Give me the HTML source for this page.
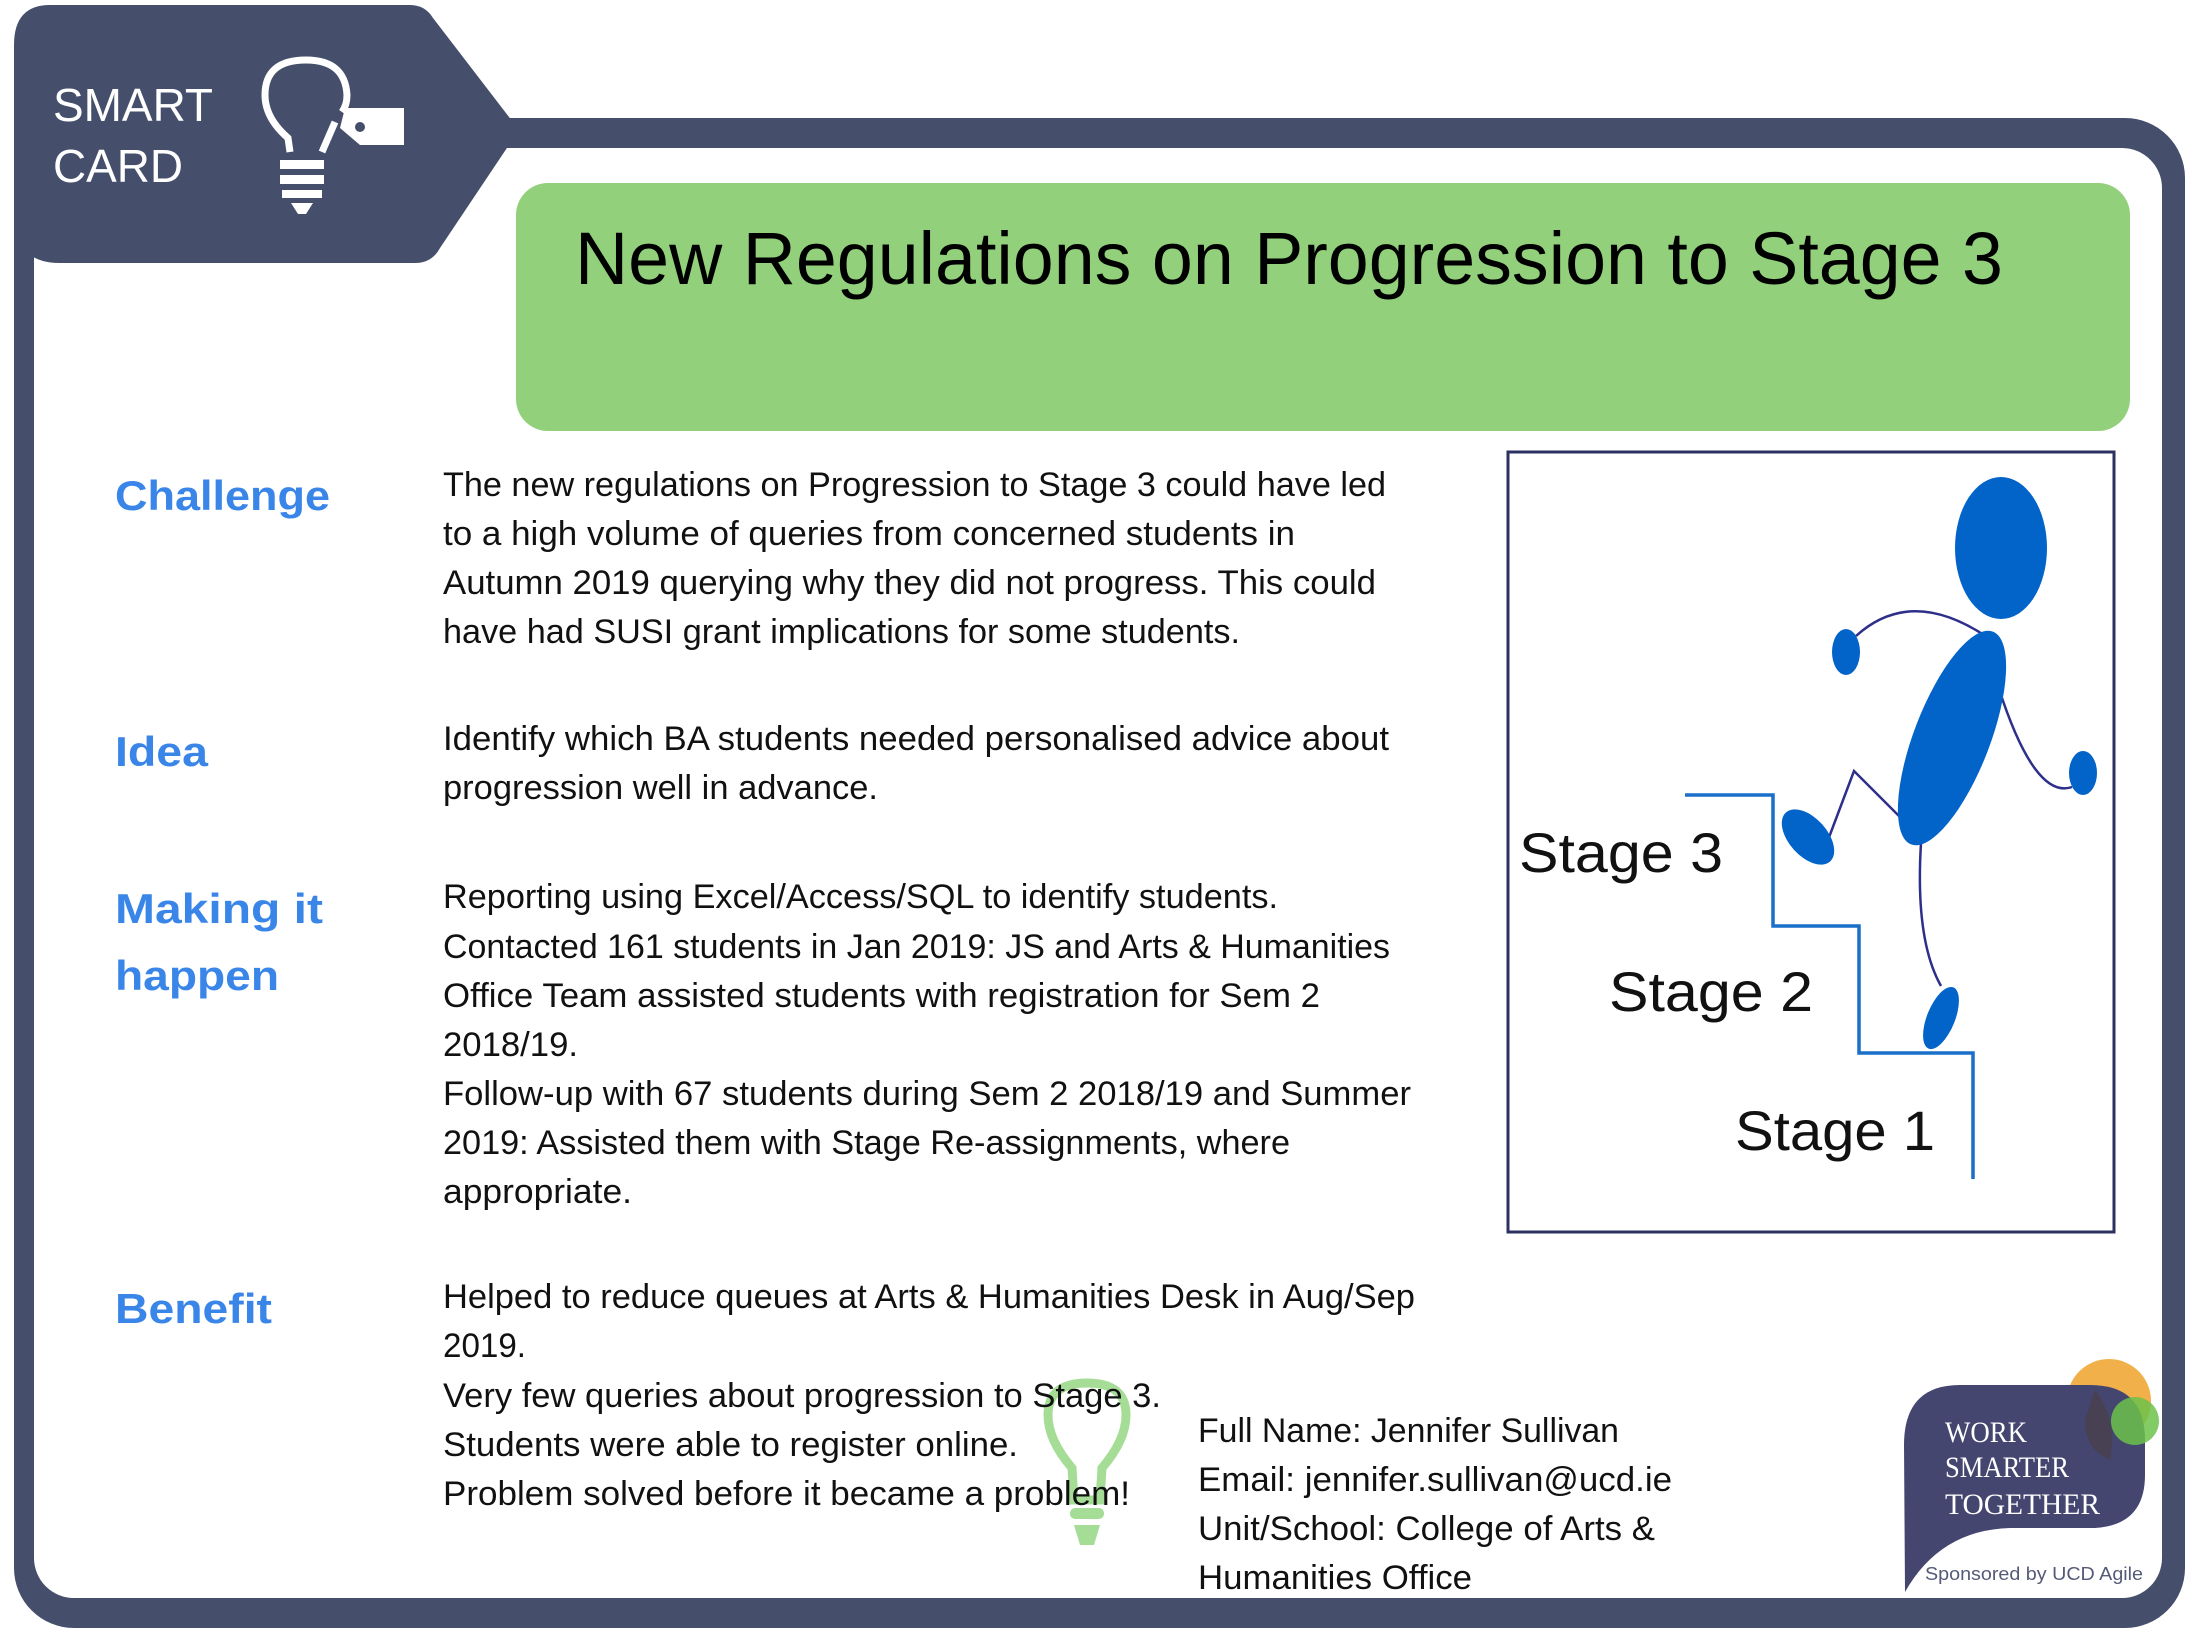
<!DOCTYPE html>
<html><head><meta charset="utf-8"><style>
html,body{margin:0;padding:0;background:#fff;}
svg{display:block;}
text{font-family:"Liberation Sans",sans-serif;}
text.serif{font-family:"Liberation Serif",serif;}
.b{font-size:34px;fill:#111;}
.l{font-size:42px;font-weight:bold;fill:#3a86e8;}
.s{font-size:56px;fill:#111;}
</style></head><body>
<svg width="2200" height="1650" viewBox="0 0 2200 1650" xmlns="http://www.w3.org/2000/svg">
<rect x="14" y="118" width="2171" height="1510" rx="60" fill="#454f6b"/>
<rect x="34" y="148" width="2128" height="1450" rx="40" fill="#fff"/>
<path d="M50,5 L410,5 Q425,5 433,18 L519,130 L440,248 Q432,263 415,263 L60,263 Q14,263 14,215 L14,45 Q14,5 50,5 Z" fill="#454f6b"/>
<text x="53" y="121" font-size="46" fill="#fff" textLength="160" lengthAdjust="spacingAndGlyphs">SMART</text>
<text x="53" y="182" font-size="46" fill="#fff" textLength="130" lengthAdjust="spacingAndGlyphs">CARD</text>
<g stroke="#fff" stroke-width="7" fill="none">
<path d="M290,152 L288,138 Q265,118 265,95 Q265,60 306,60 Q345,60 347,95 Q347,105 342,112"/>
<path d="M322,152 L335,122"/>
</g>
<rect x="280" y="160" width="44" height="9" fill="#fff"/>
<rect x="280" y="175" width="44" height="9" fill="#fff"/>
<rect x="282" y="190" width="40" height="8" fill="#fff"/>
<path d="M291,203 L313,203 L306,214 L298,214 Z" fill="#fff"/>
<path d="M345,108 L404,108 L404,145 L360,145 L340,128 Z" fill="#fff"/>
<circle cx="360" cy="127" r="5" fill="#454f6b"/>
<rect x="516" y="183" width="1614" height="248" rx="32" fill="#92d07c"/>
<text x="575" y="284" font-size="74" fill="#000" textLength="1428" lengthAdjust="spacingAndGlyphs">New Regulations on Progression to Stage 3</text>
<text class="l" x="115" y="510" textLength="215" lengthAdjust="spacingAndGlyphs">Challenge</text>
<text class="l" x="115" y="766" textLength="93" lengthAdjust="spacingAndGlyphs">Idea</text>
<text class="l" x="115" y="923" textLength="208" lengthAdjust="spacingAndGlyphs">Making it</text>
<text class="l" x="115" y="990" textLength="164" lengthAdjust="spacingAndGlyphs">happen</text>
<text class="l" x="115" y="1323" textLength="157" lengthAdjust="spacingAndGlyphs">Benefit</text>
<g class="b">
<text x="443" y="496" textLength="943" lengthAdjust="spacingAndGlyphs">The new regulations on Progression to Stage 3 could have led</text>
<text x="443" y="545" textLength="852" lengthAdjust="spacingAndGlyphs">to a high volume of queries from concerned students in</text>
<text x="443" y="594" textLength="933" lengthAdjust="spacingAndGlyphs">Autumn 2019 querying why they did not progress. This could</text>
<text x="443" y="643" textLength="797" lengthAdjust="spacingAndGlyphs">have had SUSI grant implications for some students.</text>
<text x="443" y="750" textLength="946" lengthAdjust="spacingAndGlyphs">Identify which BA students needed personalised advice about</text>
<text x="443" y="799" textLength="435" lengthAdjust="spacingAndGlyphs">progression well in advance.</text>
<text x="443" y="908" textLength="835" lengthAdjust="spacingAndGlyphs">Reporting using Excel/Access/SQL to identify students.</text>
<text x="443" y="958" textLength="947" lengthAdjust="spacingAndGlyphs">Contacted 161 students in Jan 2019: JS and Arts &amp; Humanities</text>
<text x="443" y="1007" textLength="877" lengthAdjust="spacingAndGlyphs">Office Team assisted students with registration for Sem 2</text>
<text x="443" y="1056" textLength="135" lengthAdjust="spacingAndGlyphs">2018/19.</text>
<text x="443" y="1105" textLength="968" lengthAdjust="spacingAndGlyphs">Follow-up with 67 students during Sem 2 2018/19 and Summer</text>
<text x="443" y="1154" textLength="847" lengthAdjust="spacingAndGlyphs">2019: Assisted them with Stage Re-assignments, where</text>
<text x="443" y="1203" textLength="189" lengthAdjust="spacingAndGlyphs">appropriate.</text>
</g>
<g opacity="0.7">
<path d="M1072,1468 Q1048,1440 1048,1415 Q1048,1383 1087,1383 Q1126,1383 1126,1415 Q1126,1440 1102,1468 L1100,1500 L1074,1500 Z" fill="none" stroke="#7fcf6a" stroke-width="9"/>
<rect x="1070" y="1508" width="34" height="11" rx="5" fill="#7fcf6a"/>
<path d="M1074,1525 L1100,1525 L1094,1545 L1080,1545 Z" fill="#7fcf6a"/>
</g>
<g class="b">
<text x="443" y="1308" textLength="972" lengthAdjust="spacingAndGlyphs">Helped to reduce queues at Arts &amp; Humanities Desk in Aug/Sep</text>
<text x="443" y="1357" textLength="83" lengthAdjust="spacingAndGlyphs">2019.</text>
<text x="443" y="1407" textLength="718" lengthAdjust="spacingAndGlyphs">Very few queries about progression to Stage 3.</text>
<text x="443" y="1456" textLength="575" lengthAdjust="spacingAndGlyphs">Students were able to register online.</text>
<text x="443" y="1505" textLength="687" lengthAdjust="spacingAndGlyphs">Problem solved before it became a problem!</text>
<text x="1198" y="1442" textLength="421" lengthAdjust="spacingAndGlyphs">Full Name: Jennifer Sullivan</text>
<text x="1198" y="1491" textLength="474" lengthAdjust="spacingAndGlyphs">Email: jennifer.sullivan@ucd.ie</text>
<text x="1198" y="1540" textLength="457" lengthAdjust="spacingAndGlyphs">Unit/School: College of Arts &amp;</text>
<text x="1198" y="1589" textLength="274" lengthAdjust="spacingAndGlyphs">Humanities Office</text>
</g>
<rect x="1508" y="452" width="606" height="780" fill="#fff" stroke="#2b3260" stroke-width="3"/>
<polyline points="1685,795 1773,795 1773,926 1859,926 1859,1053 1973,1053 1973,1179" fill="none" stroke="#1a6fc9" stroke-width="3.5"/>
<g fill="none" stroke="#2e2f8a" stroke-width="2.5">
<path d="M1856,636 Q1912,585 1990,639"/>
<path d="M1999,689 Q2035,800 2072,787"/>
<path d="M1902,819 L1854,771 L1828,840"/>
<path d="M1921,843 Q1915,940 1941,986"/>
</g>
<g fill="#0263c9">
<ellipse cx="2001" cy="548" rx="46" ry="71"/>
<ellipse cx="1952" cy="738" rx="38" ry="114" transform="rotate(21 1952 738)"/>
<ellipse cx="1846" cy="652" rx="14" ry="23"/>
<ellipse cx="2083" cy="773" rx="14" ry="22"/>
<ellipse cx="1808" cy="837" rx="19" ry="33" transform="rotate(-42 1808 837)"/>
<ellipse cx="1941" cy="1018" rx="14" ry="33" transform="rotate(22 1941 1018)"/>
</g>
<text class="s" x="1519" y="872" textLength="204" lengthAdjust="spacingAndGlyphs">Stage 3</text>
<text class="s" x="1609" y="1011" textLength="204" lengthAdjust="spacingAndGlyphs">Stage 2</text>
<text class="s" x="1735" y="1150" textLength="200" lengthAdjust="spacingAndGlyphs">Stage 1</text>
<circle cx="2109" cy="1401" r="42" fill="#f2b04a"/>
<path d="M1960,1385 L2090,1385 Q2145,1385 2145,1440 L2145,1475 Q2145,1525 2095,1528 L2010,1528 Q1940,1530 1905,1592 L1904,1445 Q1904,1385 1960,1385 Z" fill="#454670"/>
<circle cx="2135" cy="1421" r="24" fill="#6cc24a" opacity="0.85"/>
<path d="M2095,1390 Q2118,1420 2110,1460 Q2085,1450 2085,1420 Z" fill="#4a3d40" opacity="0.6"/>
<g fill="#fff" font-size="30">
<text class="serif" x="1945" y="1442" textLength="82" lengthAdjust="spacingAndGlyphs">WORK</text>
<text class="serif" x="1945" y="1477" textLength="124" lengthAdjust="spacingAndGlyphs">SMARTER</text>
<text class="serif" x="1945" y="1514" textLength="155" lengthAdjust="spacingAndGlyphs">TOGETHER</text>
</g>
<text x="1925" y="1580" font-size="18" fill="#555a78" textLength="218" lengthAdjust="spacingAndGlyphs">Sponsored by UCD Agile</text>
</svg>
</body></html>
